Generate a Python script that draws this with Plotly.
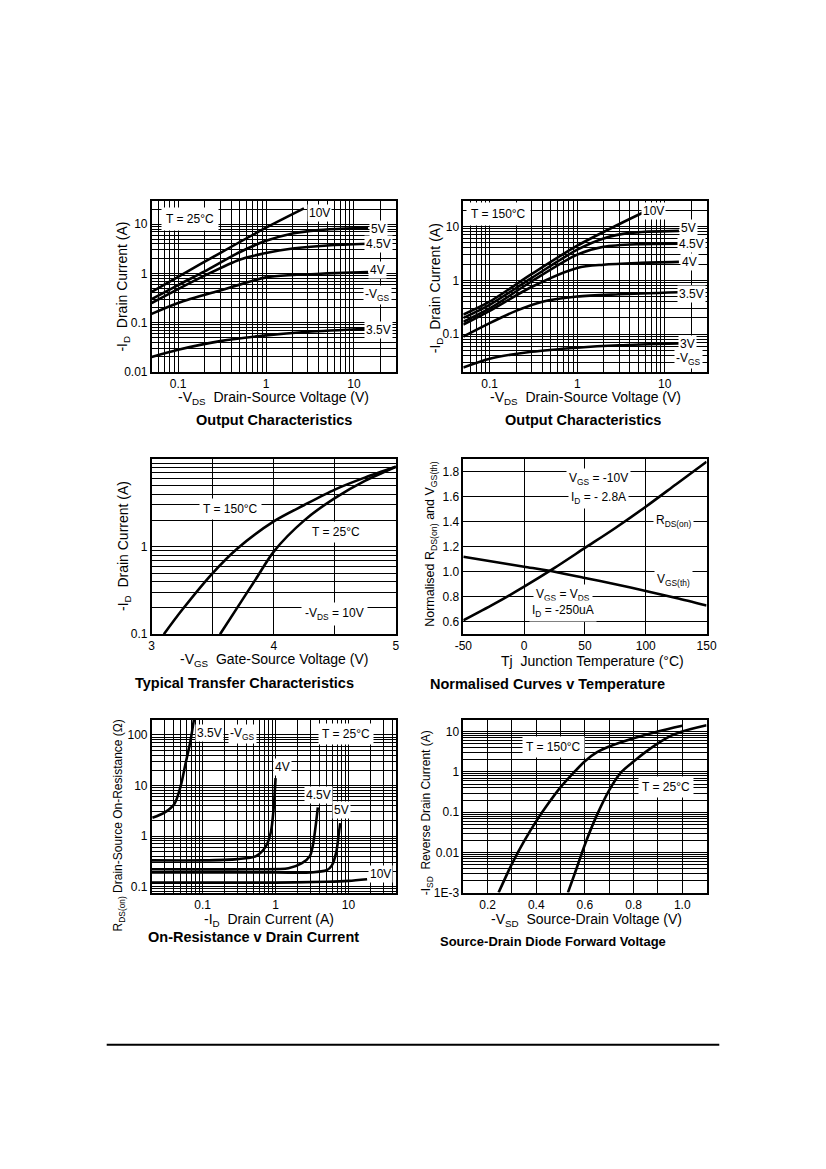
import math
import plotly.graph_objects as go

W, H = 826, 1169
FONT = "Liberation Sans, Arial, sans-serif"

# ---------------- data ----------------
# Output characteristics, T = 25°C  (-VDS in V, -ID in A)
oc25_vds_10v = [0.05, 0.1, 0.3, 1, 2.7]
oc25_id_10v = [0.42, 0.85, 2.6, 8.5, 21]
oc25_vds_5v = [0.05, 0.1, 0.2, 0.5, 1, 2, 4, 8, 14.5]
oc25_id_5v = [0.3, 0.58, 1.1, 2.7, 4.6, 6.5, 7.6, 8.2, 8.5]
oc25_vds_45v = [0.05, 0.1, 0.2, 0.5, 1, 2, 5, 14.5]
oc25_id_45v = [0.25, 0.48, 0.9, 1.9, 2.6, 3.2, 3.7, 4.0]
oc25_vds_4v = [0.05, 0.1, 0.3, 1, 2, 5, 14.5]
oc25_id_4v = [0.15, 0.25, 0.45, 0.83, 0.93, 1.0, 1.07]
oc25_vds_35v = [0.05, 0.1, 0.3, 1, 3, 14.5]
oc25_id_35v = [0.02, 0.028, 0.042, 0.055, 0.065, 0.075]

# Output characteristics, T = 150°C
oc150_vds_10v = [0.05, 0.1, 0.3, 1, 3, 6.4]
oc150_id_10v = [0.23, 0.4, 1.3, 4.4, 11, 20]
oc150_vds_5v = [0.05, 0.1, 0.3, 1, 2, 4, 14.5]
oc150_id_5v = [0.2, 0.35, 1.1, 3.7, 6.0, 7.6, 8.3]
oc150_vds_45v = [0.05, 0.1, 0.3, 1, 2, 5, 14.5]
oc150_id_45v = [0.17, 0.3, 0.95, 3.0, 4.2, 4.7, 4.8]
oc150_vds_4v = [0.05, 0.1, 0.3, 1, 2, 5, 14.5]
oc150_id_4v = [0.15, 0.27, 0.75, 1.7, 1.95, 2.1, 2.2]
oc150_vds_35v = [0.05, 0.1, 0.2, 0.4, 1, 3, 14.5]
oc150_id_35v = [0.09, 0.16, 0.27, 0.4, 0.5, 0.55, 0.6]
oc150_vds_3v = [0.05, 0.1, 0.3, 1, 3, 14.5]
oc150_id_3v = [0.024, 0.035, 0.047, 0.056, 0.062, 0.067]

# Typical transfer characteristics, -VDS = 10V
tr_vgs_150 = [3.1, 3.25, 3.5, 3.7, 4.0, 4.25, 4.5, 4.75, 5.0]
tr_id_150 = [0.1, 0.19, 0.5, 0.95, 1.95, 3.0, 4.5, 6.2, 8.2]
tr_vgs_25 = [3.56, 3.7, 3.85, 4.0, 4.25, 4.5, 4.75, 5.0]
tr_id_25 = [0.1, 0.2, 0.42, 0.88, 2.0, 3.6, 5.7, 8.2]

# Normalised curves v temperature
tj = [-50, -25, 0, 25, 50, 75, 100, 125, 150]
rds_norm = [0.61, 0.74, 0.88, 1.03, 1.19, 1.35, 1.52, 1.70, 1.88]
vth_norm = [1.12, 1.08, 1.04, 1.0, 0.95, 0.90, 0.845, 0.79, 0.73]

# On-resistance v drain current, T = 25°C  (-ID in A, RDS(on) in ohm)
ron_id_35v = [0.0205, 0.03, 0.041, 0.05, 0.058, 0.068, 0.076]
ron_r_35v = [2.3, 2.9, 4.3, 9.7, 26, 75, 200]
ron_id_4v = [0.02, 0.1, 0.3, 0.54, 0.74, 0.86, 0.94, 1.0]
ron_r_4v = [0.33, 0.33, 0.35, 0.40, 0.63, 1.17, 3.4, 14]
ron_id_45v = [0.02, 0.5, 1.5, 2.3, 2.95, 3.3, 3.55, 3.8]
ron_r_45v = [0.22, 0.22, 0.23, 0.29, 0.4, 0.74, 1.6, 3.7]
ron_id_5v = [0.02, 1, 3, 5, 5.9, 6.8, 7.3, 7.7]
ron_r_5v = [0.19, 0.19, 0.19, 0.21, 0.26, 0.48, 1.0, 1.8]
ron_id_10v = [0.02, 1, 5, 10, 18]
ron_r_10v = [0.12, 0.12, 0.125, 0.13, 0.14]

# Source-drain diode forward voltage (-VSD in V, -ISD in A)
sd_v_150 = [0.245, 0.3, 0.35, 0.4, 0.45, 0.5, 0.55, 0.6, 0.65, 0.7, 0.8, 0.9, 1.0]
sd_i_150 = [0.001, 0.0052, 0.019, 0.06, 0.166, 0.42, 0.91, 1.86, 3.1, 4.3, 6.9, 10.2, 14.1]
sd_v_25 = [0.53, 0.56, 0.6, 0.65, 0.7, 0.75, 0.8, 0.85, 0.9, 0.95, 1.0, 1.1]
sd_i_25 = [0.001, 0.0032, 0.0158, 0.087, 0.355, 1.0, 1.82, 3.16, 5.13, 7.76, 10.2, 14.5]

# tick labels (value, text)
oc_xticks = [(0.1, "0.1"), (1, "1"), (10, "10")]
oc25_yticks = [(0.01, "0.01"), (0.1, "0.1"), (1, "1"), (10, "10")]
oc150_yticks = [(0.1, "0.1"), (1, "1"), (10, "10")]
tr_xticks = [(3, "3"), (4, "4"), (5, "5")]
tr_yticks = [(0.1, "0.1"), (1, "1")]
nt_xticks = [(-50, "-50"), (0, "0"), (50, "50"), (100, "100"), (150, "150")]
nt_yticks = [(0.6, "0.6"), (0.8, "0.8"), (1.0, "1.0"), (1.2, "1.2"), (1.4, "1.4"), (1.6, "1.6"), (1.8, "1.8")]
ron_xticks = [(0.1, "0.1"), (1, "1"), (10, "10")]
ron_yticks = [(0.1, "0.1"), (1, "1"), (10, "10"), (100, "100")]
sd_xticks = [(0.2, "0.2"), (0.4, "0.4"), (0.6, "0.6"), (0.8, "0.8"), (1.0, "1.0")]
sd_yticks = [(0.001, "1E-3"), (0.01, "0.01"), (0.1, "0.1"), (1, "1"), (10, "10")]


def fx(x):
    return x / W


def fy(y):
    return 1 - y / H


def log_lines(lo, hi):
    # every 1..9 x 10^n grid line between lo and hi
    vals = []
    for e in range(-4, 4):
        for m in range(1, 10):
            v = round(m * 10 ** e, 6)
            if lo * 0.999 <= v <= hi * 1.001:
                vals.append(v)
    return vals


def axis(domain, anchor, typ, rng, ticks, lines):
    return dict(domain=domain, anchor=anchor, type=typ, range=rng,
                tickmode="array", tickvals=[t[0] for t in ticks], ticktext=[t[1] for t in ticks],
                showgrid=True, gridcolor="black", gridwidth=1,
                minor=dict(tickmode="array", tickvals=lines, showgrid=True,
                           gridcolor="black", gridwidth=1, ticks=""),
                showline=True, mirror=True, linecolor="black", linewidth=1.5,
                ticks="", zeroline=False, fixedrange=True, ticklabelstandoff=0,
                tickfont=dict(family=FONT, size=12, color="black"))


colx = [[fx(146), fx(396)], [fx(465), fx(714)]]
rowy = [[fy(374), fy(202)], [fy(638), fy(462)], [fy(898), fy(724)]]

fig = go.Figure()


def curve(x, y, n):
    fig.add_trace(go.Scatter(x=x, y=y, mode="lines", xaxis="x%d" % n, yaxis="y%d" % n,
                             line=dict(color="black", width=2.6, shape="spline", smoothing=0.8),
                             showlegend=False, hoverinfo="skip"))


for xs, ys in [(oc25_vds_10v, oc25_id_10v), (oc25_vds_5v, oc25_id_5v), (oc25_vds_45v, oc25_id_45v),
               (oc25_vds_4v, oc25_id_4v), (oc25_vds_35v, oc25_id_35v)]:
    curve(xs, ys, 1)
for xs, ys in [(oc150_vds_10v, oc150_id_10v), (oc150_vds_5v, oc150_id_5v), (oc150_vds_45v, oc150_id_45v),
               (oc150_vds_4v, oc150_id_4v), (oc150_vds_35v, oc150_id_35v), (oc150_vds_3v, oc150_id_3v)]:
    curve(xs, ys, 2)
curve(tr_vgs_150, tr_id_150, 3)
curve(tr_vgs_25, tr_id_25, 3)
curve(tj, rds_norm, 4)
curve(tj, vth_norm, 4)
for xs, ys in [(ron_id_35v, ron_r_35v), (ron_id_4v, ron_r_4v), (ron_id_45v, ron_r_45v),
               (ron_id_5v, ron_r_5v), (ron_id_10v, ron_r_10v)]:
    curve(xs, ys, 5)
curve(sd_v_150, sd_i_150, 6)
curve(sd_v_25, sd_i_25, 6)

L10 = math.log10
fig.update_layout(
    xaxis=axis(colx[0], "y", "log", [L10(0.05), L10(30)], oc_xticks, log_lines(0.05, 30)),
    yaxis=axis(rowy[0], "x", "log", [-2, L10(30)], oc25_yticks, log_lines(0.01, 30)),
    xaxis2=axis(colx[1], "y2", "log", [L10(0.05), L10(30)], oc_xticks, log_lines(0.05, 30)),
    yaxis2=axis(rowy[0], "x2", "log", [L10(0.02), L10(30)], oc150_yticks, log_lines(0.02, 30)),
    xaxis3=axis(colx[0], "y3", "linear", [3, 5], tr_xticks, [3.5, 4.5]),
    yaxis3=axis(rowy[1], "x3", "log", [-1, 1], tr_yticks, log_lines(0.1, 10)),
    xaxis4=axis(colx[1], "y4", "linear", [-50, 150], nt_xticks, []),
    yaxis4=axis(rowy[1], "x4", "linear", [0.5, 1.9], nt_yticks, []),
    xaxis5=axis(colx[0], "y5", "log", [L10(0.02), 1.65], ron_xticks, log_lines(0.02, 45)),
    yaxis5=axis(rowy[2], "x5", "log", [L10(0.076), L10(200)], ron_yticks, log_lines(0.08, 200)),
    xaxis6=axis(colx[1], "y6", "linear", [0.1, 1.1], sd_xticks, [0.3, 0.5, 0.7, 0.9]),
    yaxis6=axis(rowy[2], "x6", "log", [-3, L10(20)], sd_yticks, log_lines(0.001, 20)),
)

ann = []


def text(x, y, s, size=12, bg=None, pad=1, bold=False, angle=0):
    if bold:
        s = "<b>" + s + "</b>"
    a = dict(x=fx(x), y=fy(y), xref="paper", yref="paper", text=s, showarrow=False,
             xanchor="center", yanchor="middle", textangle=angle,
             font=dict(family=FONT, size=size, color="black"))
    if bg:
        a.update(bgcolor=bg, borderpad=pad)
    ann.append(a)


# chart 1
text(185, 220, "T = 25°C", 12, "white", 4)
text(318, 214, "10V", 12, "white")
text(378, 230, "5V", 12, "white")
text(378, 245, "4.5V", 12, "white")
text(377, 272, "4V", 12, "white")
text(377, 297, "-V<sub>GS</sub>", 12, "white")
text(378, 332, "3.5V", 12, "white")
text(271, 400, "-V<sub>DS</sub>  Drain-Source Voltage (V)", 14)
text(271, 423, "Output Characteristics", 14.5, bold=True)
text(117, 288, "-I<sub>D</sub>  Drain Current (A)", 14, angle=-90)

# chart 2
text(501, 215, "T = 150°C", 12, "white", 4)
text(660, 212, "10V", 12, "white")
text(696, 229, "5V", 12, "white")
text(699, 245, "4.5V", 12, "white")
text(697, 264, "4V", 12, "white")
text(699, 296, "3.5V", 12, "white")
text(694, 346, "3V", 12, "white")
text(696, 361, "-V<sub>GS</sub>", 12, "white")
text(590, 400, "-V<sub>DS</sub>  Drain-Source Voltage (V)", 14)
text(588, 423, "Output Characteristics", 14.5, bold=True)
text(437, 290, "-I<sub>D</sub>  Drain Current (A)", 14, angle=-90)

# chart 3
text(227, 512, "T = 150°C", 12, "white", 3)
text(335, 535, "T = 25°C", 12, "white", 3)
text(333, 618, "-V<sub>DS</sub> = 10V", 12, "white", 3)
text(271, 664, "-V<sub>GS</sub>  Gate-Source Voltage (V)", 14)
text(241, 687, "Typical Transfer Characteristics", 14.5, bold=True)
text(117, 549, "-I<sub>D</sub>  Drain Current (A)", 14, angle=-90)

# chart 4
text(603, 482, "V<sub>GS</sub> = -10V", 12, "white", 2)
text(603, 501, "I<sub>D</sub> = - 2.8A", 12, "white", 2)
text(680, 524, "R<sub>DS(on)</sub>", 12, "white", 2)
text(680, 583, "V<sub>GS(th)</sub>", 12, "white", 2)
text(567, 599, "V<sub>GS</sub> = V<sub>DS</sub>", 12, "white", 2)
text(567, 615, "I<sub>D</sub> = -250uA", 12, "white", 2)
text(597, 665, "Tj  Junction Temperature (°C)", 14)
text(551, 688, "Normalised Curves v Temperature", 14.5, bold=True)
text(432, 548, "Normalised R<sub>DS(on)</sub> and V<sub>GS(th)</sub>", 12.5, angle=-90)

# chart 5
text(205, 737, "3.5V", 12, "white")
text(239, 738, "-V<sub>GS</sub>", 12, "white")
text(345, 738, "T = 25°C", 12, "white", 3)
text(280, 772, "4V", 12, "white")
text(317, 800, "4.5V", 12, "white")
text(340, 815, "5V", 12, "white")
text(380, 879, "10V", 12, "white")
text(266, 926, "-I<sub>D</sub>  Drain Current (A)", 14)
text(250, 943, "On-Resistance v Drain Current", 14.5, bold=True)
text(113, 830, "R<sub>DS(on)</sub> Drain-Source On-Resistance (Ω)", 12, angle=-90)

# chart 6
text(557, 752, "T = 150°C", 12, "white", 3)
text(672, 792, "T = 25°C", 12, "white", 3)
text(591, 926, "-V<sub>SD</sub>  Source-Drain Voltage (V)", 14)
text(557, 947, "Source-Drain Diode Forward Voltage", 13, bold=True)
text(428, 818, "-I<sub>SD</sub>  Reverse Drain Current (A)", 12, angle=-90)

fig.update_layout(
    width=W, height=H, margin=dict(l=0, r=0, t=0, b=0),
    paper_bgcolor="white", plot_bgcolor="white",
    font=dict(family=FONT, color="black"),
    annotations=ann, showlegend=False,
    shapes=[dict(type="line", xref="paper", yref="paper", x0=fx(100), x1=fx(727),
                 y0=fy(1051), y1=fy(1051), line=dict(color="black", width=2))],
)

fig.write_html("out.html", config={"displayModeBar": False},
               post_script="document.body.style.margin='0';document.body.style.overflow='hidden';")
